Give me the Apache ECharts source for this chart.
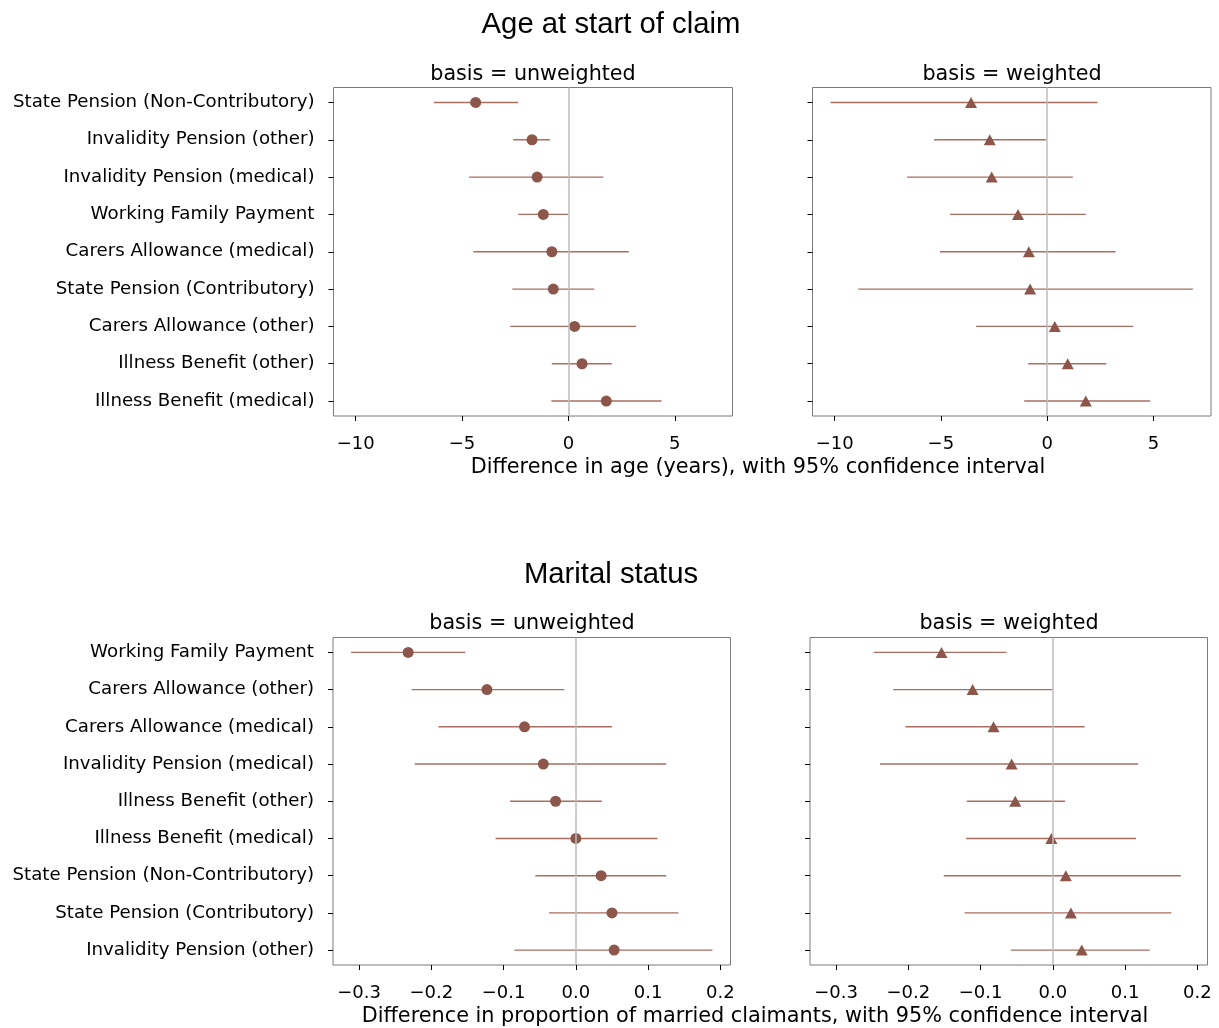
<!DOCTYPE html>
<html style="height: 100%">
<head>
    <meta charset="utf-8">
    <title>Age and marital status</title>
    <script src="https://cdn.jsdelivr.net/npm/echarts@6/dist/echarts.min.js"></script>
</head>
<body style="height: 100%; margin: 0; background: #fff">
<div id="container" style="width: 1219px; height: 1028px"></div>
<script type="text/javascript">
    // top block: age at start of claim
    var ageCats = ['State Pension (Non-Contributory)', 'Invalidity Pension (other)', 'Invalidity Pension (medical)',
        'Working Family Payment', 'Carers Allowance (medical)', 'State Pension (Contributory)',
        'Carers Allowance (other)', 'Illness Benefit (other)', 'Illness Benefit (medical)'];
    var ageUnwMean = [-4.36, -1.71, -1.47, -1.18, -0.78, -0.71, 0.29, 0.64, 1.78];
    var ageUnwLow = [-6.33, -2.60, -4.67, -2.36, -4.47, -2.64, -2.73, -0.78, -0.80];
    var ageUnwHigh = [-2.36, -0.87, 1.64, -0.02, 2.84, 1.22, 3.18, 2.04, 4.38];
    var ageWtMean = [-3.58, -2.70, -2.61, -1.37, -0.86, -0.80, 0.36, 0.97, 1.82];
    var ageWtLow = [-10.19, -5.32, -6.59, -4.57, -5.04, -8.89, -3.34, -0.89, -1.08];
    var ageWtHigh = [2.37, -0.06, 1.21, 1.82, 3.22, 6.86, 4.05, 2.79, 4.85];
    var ageTicks = [-10, -5, 0, 5];

    // bottom block: marital status
    var marCats = ['Working Family Payment', 'Carers Allowance (other)', 'Carers Allowance (medical)',
        'Invalidity Pension (medical)', 'Illness Benefit (other)', 'Illness Benefit (medical)',
        'State Pension (Non-Contributory)', 'State Pension (Contributory)', 'Invalidity Pension (other)'];
    var marUnwMean = [-0.232, -0.123, -0.071, -0.045, -0.028, 0.000, 0.035, 0.050, 0.053];
    var marUnwLow = [-0.311, -0.227, -0.190, -0.223, -0.091, -0.111, -0.056, -0.037, -0.085];
    var marUnwHigh = [-0.153, -0.016, 0.050, 0.125, 0.036, 0.113, 0.125, 0.142, 0.189];
    var marWtMean = [-0.154, -0.111, -0.082, -0.057, -0.052, -0.002, 0.018, 0.025, 0.040];
    var marWtLow = [-0.248, -0.221, -0.204, -0.239, -0.119, -0.120, -0.151, -0.122, -0.058];
    var marWtHigh = [-0.064, 0.000, 0.044, 0.118, 0.017, 0.115, 0.177, 0.164, 0.134];
    var marTicks = [-0.3, -0.2, -0.1, 0.0, 0.1, 0.2];

    var brown = '#8c564b';
    var ciColor = '#a96d62';
    var tickFont = 'DejaVu Sans';

    var dom = document.getElementById('container');
    var myChart = echarts.init(dom, null, {renderer: 'canvas'});

    // matplotlib style 5% margin on the shared x range
    function xRange(lows, highs) {
        var lo = Math.min.apply(null, lows), hi = Math.max.apply(null, highs);
        var pad = (hi - lo) * 0.05;
        return [lo - pad, hi + pad];
    }
    var ageRange = xRange(ageUnwLow.concat(ageWtLow), ageUnwHigh.concat(ageWtHigh));
    var marRange = xRange(marUnwLow.concat(marWtLow), marUnwHigh.concat(marWtHigh));

    var grids = [], xAxes = [], yAxes = [], series = [];
    var idx = [0, 1, 2, 3, 4, 5, 6, 7, 8];

    function addPanel(box, cats, mean, low, high, range, ticks, decimals, symbol, showLabels) {
        var k = grids.length;
        grids.push({
            left: box[0], top: box[1], width: box[2], height: box[3],
            show: true, borderColor: '#7a7a7a', borderWidth: 1, backgroundColor: 'transparent'
        });
        xAxes.push({
            gridIndex: k, type: 'value', min: range[0], max: range[1], position: 'bottom',
            splitLine: {show: false},
            axisLine: {show: false, onZero: false},
            axisTick: {show: true, customValues: ticks, length: 5, lineStyle: {color: '#000', width: 1}},
            axisLabel: {
                customValues: ticks, margin: 19, color: '#000', fontFamily: tickFont, fontSize: 18,
                formatter: function (v) { return v.toFixed(decimals).replace('-', '\u2212'); }
            }
        });
        yAxes.push({
            gridIndex: k, type: 'value', inverse: true, min: -0.4, max: 8.4, position: 'left',
            splitLine: {show: false},
            axisLine: {show: false, onZero: false},
            axisTick: {show: true, customValues: idx, length: 5, lineStyle: {color: '#000', width: 1}},
            axisLabel: {
                show: showLabels, customValues: idx, margin: 19, color: '#000', fontFamily: tickFont, fontSize: 18.2,
                formatter: function (v) { return cats[Math.round(v)]; }
            }
        });
        // zero reference line
        series.push({
            type: 'scatter', xAxisIndex: k, yAxisIndex: k, data: [], z: 1, silent: true,
            markLine: {
                silent: true, symbol: 'none', label: {show: false},
                lineStyle: {color: '#bdbdbd', width: 1.5, type: 'solid'},
                data: [{xAxis: 0}]
            }
        });
        // confidence intervals
        series.push({
            type: 'custom', xAxisIndex: k, yAxisIndex: k, z: 2, silent: true,
            encode: {x: [0, 1], y: 2},
            data: idx.map(function (i) { return [low[i], high[i], i]; }),
            renderItem: function (params, api) {
                var a = api.coord([api.value(0), api.value(2)]);
                var b = api.coord([api.value(1), api.value(2)]);
                return {
                    type: 'line',
                    shape: {x1: a[0], y1: a[1], x2: b[0], y2: b[1]},
                    style: {stroke: ciColor, lineWidth: 1.4}
                };
            }
        });
        // estimates
        series.push({
            type: 'scatter', xAxisIndex: k, yAxisIndex: k, z: 3, silent: true,
            symbol: symbol, symbolSize: symbol === 'circle' ? 11 : [12, 11],
            itemStyle: {color: brown, opacity: 1},
            data: idx.map(function (i) { return [mean[i], i]; })
        });
    }

    addPanel([333.5, 87.5, 399, 328.5], ageCats, ageUnwMean, ageUnwLow, ageUnwHigh, ageRange, ageTicks, 0, 'circle', true);
    addPanel([812.5, 87.5, 398.5, 328.5], ageCats, ageWtMean, ageWtLow, ageWtHigh, ageRange, ageTicks, 0, 'triangle', false);
    addPanel([333, 637.5, 397.5, 327.5], marCats, marUnwMean, marUnwLow, marUnwHigh, marRange, marTicks, 1, 'circle', true);
    addPanel([810, 637.5, 397.5, 327.5], marCats, marWtMean, marWtLow, marWtHigh, marRange, marTicks, 1, 'triangle', false);

    function label(x, y, text, size, family) {
        return {
            type: 'text', x: x, y: y, silent: true,
            style: {text: text, fill: '#000', font: size + 'px "' + family + '"', align: 'center', verticalAlign: 'middle'}
        };
    }

    var option = {
        backgroundColor: '#fff',
        animation: false,
        grid: grids,
        xAxis: xAxes,
        yAxis: yAxes,
        series: series,
        graphic: [
            label(611, 25, 'Age at start of claim', 29.3, 'Liberation Sans'),
            label(533, 75, 'basis = unweighted', 20.7, tickFont),
            label(1012, 75, 'basis = weighted', 20.7, tickFont),
            label(758, 468, 'Difference in age (years), with 95% confidence interval', 20.8, tickFont),
            label(611, 575, 'Marital status', 29.3, 'Liberation Sans'),
            label(532, 624, 'basis = unweighted', 20.7, tickFont),
            label(1009, 624, 'basis = weighted', 20.7, tickFont),
            label(755, 1017, 'Difference in proportion of married claimants, with 95% confidence interval', 20.8, tickFont)
        ]
    };
    myChart.setOption(option);
</script>
</body>
</html>
